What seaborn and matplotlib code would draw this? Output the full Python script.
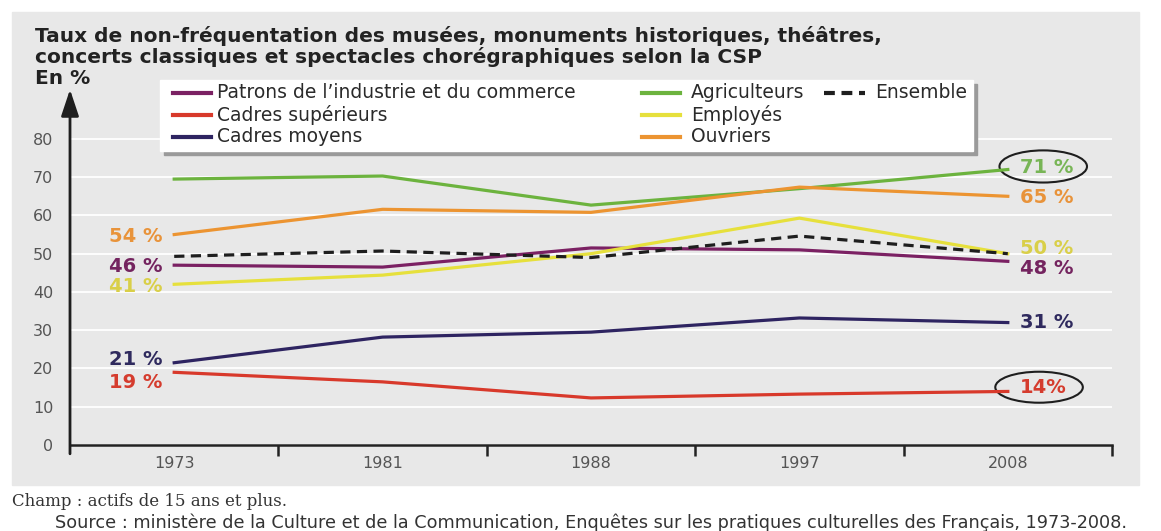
import matplotlib
matplotlib.use('Agg')
import matplotlib.pyplot as plt
from matplotlib.patches import Ellipse, Rectangle
from matplotlib.lines import Line2D
import pandas as pd
import seaborn as sns

# données (taux de non-fréquentation, en %)
annees = ['1973', '1981', '1988', '1997', '2008']
patrons = [47, 46.5, 51.5, 51, 48]
cadres_sup = [19, 16.5, 12.3, 13.3, 14]
cadres_moyens = [21.5, 28.2, 29.5, 33.2, 32]
agriculteurs = [69.5, 70.3, 62.7, 67, 72]
employes = [42, 44.4, 50, 59.3, 50]
ouvriers = [55, 61.6, 60.8, 67.4, 65]
ensemble = [49.3, 50.7, 49, 54.6, 50]

categories = ['Patrons de l\u2019industrie et du commerce', 'Cadres supérieurs', 'Cadres moyens',
              'Agriculteurs', 'Employés', 'Ouvriers', 'Ensemble']
valeurs = [patrons, cadres_sup, cadres_moyens, agriculteurs, employes, ouvriers, ensemble]

# étiquettes affichées aux extrémités
lab_debut = ['46 %', '19 %', '21 %', None, '41 %', '54 %', None]
lab_fin = ['48 %', '14%', '31 %', '71 %', '50 %', '65 %', None]

couleurs = ['#7b2163', '#d8392b', '#2e2461', '#6cb33e', '#e6e03c', '#ec9431', '#1e1e1e']
couleurs_lab = ['#74245f', '#d53c2e', '#2f2a5e', '#78b556', '#d9cf48', '#e8933a', '#1e1e1e']
# décalages des étiquettes (pixels)
dy_debut = [-1, -10, 3, 0, -2, -2, 0]
dy_fin = [-7, 4, 0, 2, 5, -1, 0]

W, H = 1161, 531


def fx(x):
    return x / W


def fy(y):
    return 1 - y / H


rows = []
for nom, vals in zip(categories, valeurs):
    for a, v in zip(annees, vals):
        rows.append({'annee': a, 'taux': v, 'csp': nom})
df = pd.DataFrame(rows)

palette = dict(zip(categories, couleurs))
tirets = {nom: '' for nom in categories}
tirets['Ensemble'] = (3.2, 2.0)

fig = plt.figure(figsize=(11.61, 5.31), dpi=100)
fig.patches.append(Rectangle((fx(12), fy(485)), 1127 / W, 473 / H,
                             transform=fig.transFigure, color='#e8e8e8', zorder=-10))
ax = fig.add_axes([fx(70), fy(445), 1042 / W, 352 / H])
ax.set_facecolor('none')

sns.lineplot(data=df, x='annee', y='taux', hue='csp', style='csp', palette=palette,
             dashes=tirets, linewidth=2.3, legend=False, sort=False, ax=ax)

ax.set_xlim(-0.5, 4.5)
ax.set_ylim(0, 92)
ax.set_yticks(range(0, 81, 10))
ax.set_xticks(range(5))
ax.set_xticklabels(annees)
ax.set_xticks([0.5, 1.5, 2.5, 3.5, 4.5], minor=True)
ax.set_xlabel('')
ax.set_ylabel('')
ax.yaxis.grid(True, color='white', lw=1.3)
ax.xaxis.grid(False)
ax.set_axisbelow(True)
for s in ['top', 'right', 'left']:
    ax.spines[s].set_visible(False)
ax.spines['bottom'].set_color('#222222')
ax.spines['bottom'].set_linewidth(1.8)
ax.tick_params(axis='y', length=0, pad=12, labelsize=11.5, labelcolor='#555555')
ax.tick_params(axis='x', which='major', length=0, pad=8, labelsize=11.5, labelcolor='#555555')
ax.tick_params(axis='x', which='minor', length=8, width=1.8, color='#222222', direction='out')

# axe vertical avec flèche
ax.annotate('', xy=(0, 1.01), xycoords='axes fraction', xytext=(0, -0.025),
            arrowprops=dict(arrowstyle='-|>,head_length=0.9,head_width=0.3', color='#1e1e1e',
                            lw=2, shrinkA=0, shrinkB=0, mutation_scale=18))

# étiquettes de début et de fin
for i, vals in enumerate(valeurs):
    if lab_debut[i]:
        ax.annotate(lab_debut[i], xy=(0, vals[0]), xytext=(-12, dy_debut[i]),
                    textcoords='offset pixels', ha='right', va='center', fontsize=14,
                    fontweight='bold', color=couleurs_lab[i])
    if lab_fin[i]:
        ax.annotate(lab_fin[i], xy=(4, vals[-1]), xytext=(12, dy_fin[i]),
                    textcoords='offset pixels', ha='left', va='center', fontsize=14,
                    fontweight='bold', color=couleurs_lab[i])

# ellipses autour de 71 % et 14 %
ax.add_patch(Ellipse((4.17, 72.8), 0.42, 8.4, fill=False, ec='#1e1e1e', lw=1.5, clip_on=False))
ax.add_patch(Ellipse((4.15, 15.1), 0.42, 8.1, fill=False, ec='#1e1e1e', lw=1.5, clip_on=False))

# légende dessinée à la main (boîte blanche avec ombre)
fig.patches.append(Rectangle((fx(164), fy(155)), 813 / W, 71 / H, transform=fig.transFigure,
                             color='#9a9a9a', zorder=5))
fig.patches.append(Rectangle((fx(160), fy(151)), 813 / W, 71 / H, transform=fig.transFigure,
                             color='white', zorder=6))
col_x = [(173, 211, 217), (642, 680, 691), (824, 865, 875)]
row_y = [93, 115, 137]
for k, (nom, c) in enumerate(zip(categories, couleurs)):
    col, row = divmod(k, 3)
    x0, x1, xt = col_x[col]
    y = row_y[row]
    ls = (0, (2.6, 1.6)) if nom == 'Ensemble' else '-'
    fig.add_artist(Line2D([fx(x0), fx(x1)], [fy(y), fy(y)], color=c, lw=3, ls=ls,
                          transform=fig.transFigure, zorder=7))
    fig.text(fx(xt), fy(y), nom, fontsize=13.5, color='#2a2a2a', va='center', zorder=7)

# titre
fig.text(fx(35), fy(36), 'Taux de non-fréquentation des musées, monuments historiques, théâtres,',
         fontsize=14.5, fontweight='bold', color='#222222', va='center')
fig.text(fx(35), fy(57), 'concerts classiques et spectacles chorégraphiques selon la CSP',
         fontsize=14.5, fontweight='bold', color='#222222', va='center')
fig.text(fx(35), fy(78), 'En %', fontsize=14.5, fontweight='bold', color='#222222', va='center')

# notes
fig.text(fx(12), fy(502), 'Champ : actifs de 15 ans et plus.', family='DejaVu Serif',
         fontsize=12, color='#333333', va='center')
fig.text(fx(55), fy(523),
         'Source : ministère de la Culture et de la Communication, Enquêtes sur les pratiques culturelles des Français, 1973-2008.',
         fontsize=12.7, color='#333333', va='center')

fig.savefig('out.png', dpi=100)
